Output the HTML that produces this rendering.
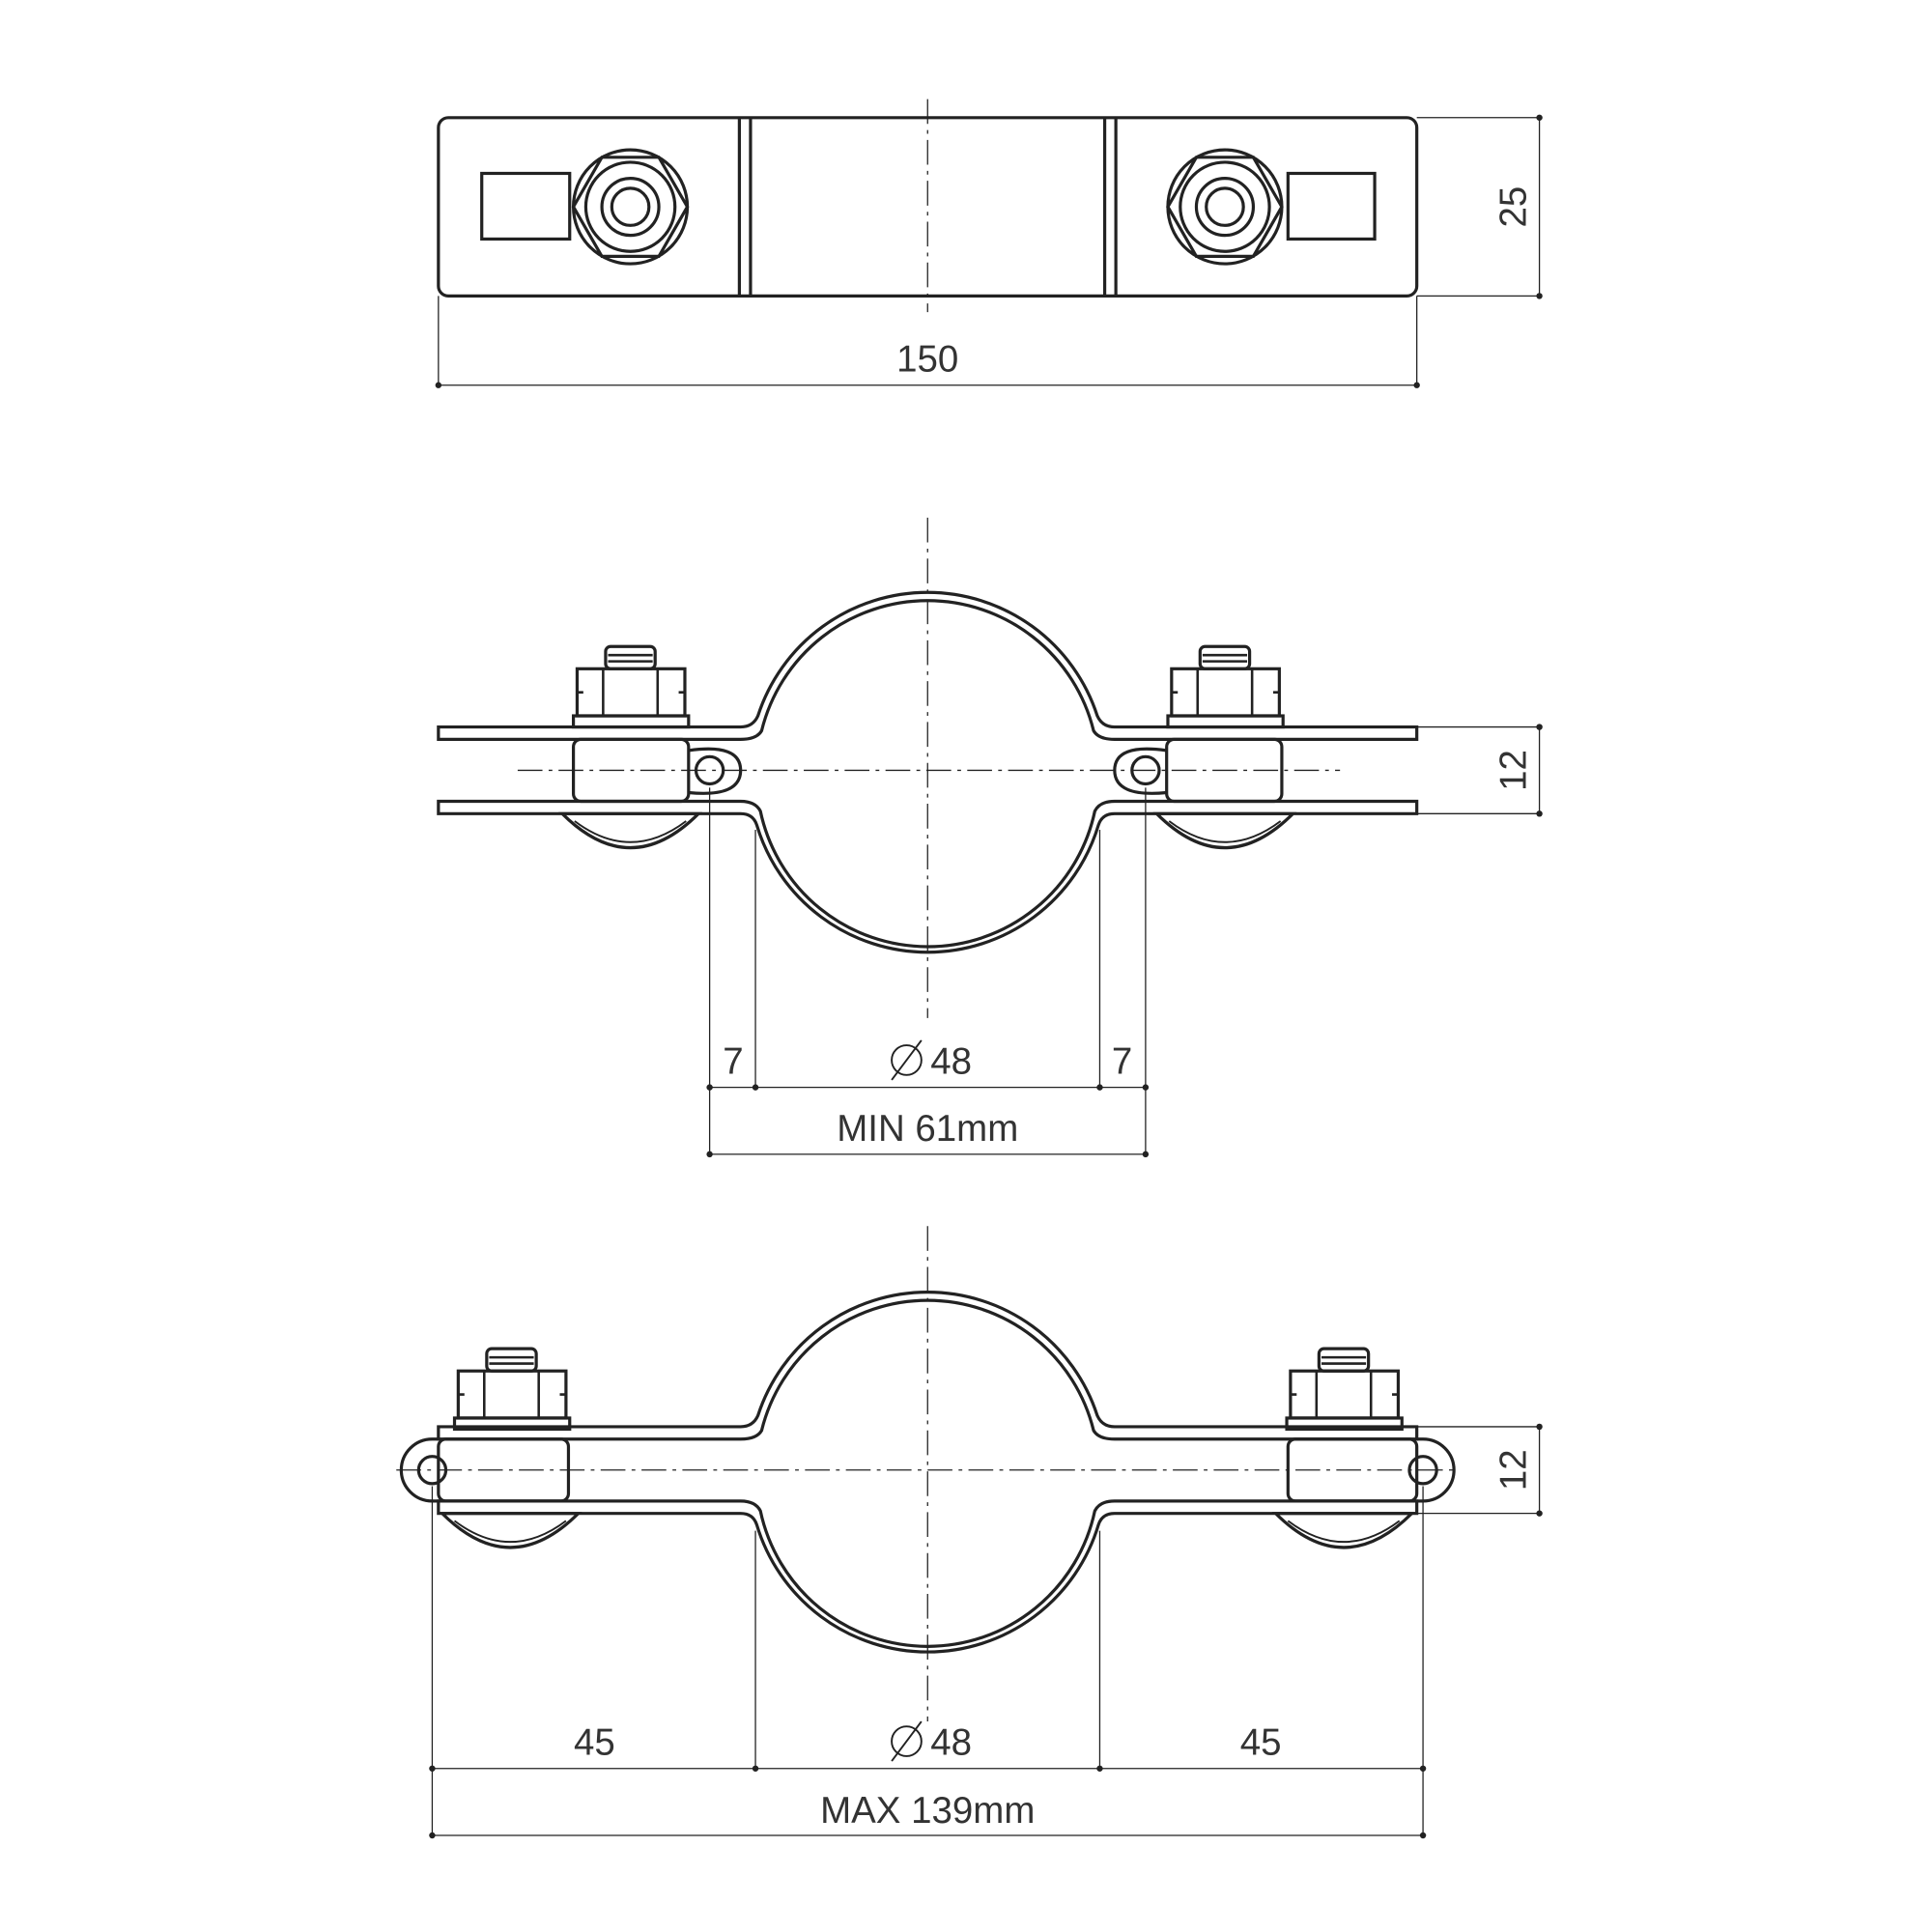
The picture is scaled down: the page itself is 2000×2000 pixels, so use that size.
<!DOCTYPE html>
<html><head><meta charset="utf-8"><style>html,body{margin:0;padding:0;background:#fff}svg{display:block}</style></head>
<body>
<svg width="2000" height="2000" viewBox="0 0 1560 1560" xmlns="http://www.w3.org/2000/svg" font-family="Liberation Sans, sans-serif" fill="none" stroke="#222">
<defs>
<g id="bolt">
  <rect x="-20" y="-57" width="40" height="18" rx="4" stroke-width="2.5"/>
  <path d="M-18 -50 H18 M-18 -45 H18" stroke-width="2"/>
  <rect x="-43" y="-39" width="87" height="38" stroke-width="2.5"/>
  <path d="M-22 -39 V-1 M22 -39 V-1 M-43 -20 H-38 M44 -20 H39" stroke-width="2"/>
  <rect x="-46" y="-1" width="93" height="9" stroke-width="2.5"/>
</g>
<g id="dome">
  <path d="M-55 0 Q0 55 55 0 Z" stroke-width="2.5"/>
  <path d="M-45 6 Q0 40 45 6" stroke-width="1.5"/>
</g>
<g id="ring" stroke-width="2.5" fill="#fff">
  <path d="M354 587 H598 Q608 587 612 578 A144 144 0 0 1 886 578 Q890 587 900 587 H1144 V597 H900 Q887 597 883 590 A138 138 0 0 0 615 590 Q611 597 598 597 H354 Z"/>
  <path d="M354 647 H598 Q610 647 614 655 A138 138 0 0 0 884 655 Q888 647 900 647 H1144 V657 H900 Q890 657 887 666 A144 144 0 0 1 611 666 Q608 657 598 657 H354 Z"/>
</g>
</defs>

<!-- TOP VIEW -->
<rect x="354" y="95" width="790" height="144" rx="8" stroke-width="2.5"/>
<path d="M597 95 V239 M606 95 V239 M892 95 V239 M901 95 V239" stroke-width="2.5"/>
<path d="M749 80 V252" stroke-width="1" stroke-dasharray="20,5,3,5"/>
<rect x="389" y="140" width="71" height="53" stroke-width="2.5"/>
<rect x="1040" y="140" width="70" height="53" stroke-width="2.5"/>
<g stroke-width="2.5">
<circle cx="509" cy="167" r="46" fill="#fff"/><circle cx="509" cy="167" r="36"/><circle cx="509" cy="167" r="23"/><circle cx="509" cy="167" r="15"/>
<polygon points="463,167 486,127 532,127 555,167 532,207 486,207"/>
<circle cx="989" cy="167" r="46" fill="#fff"/><circle cx="989" cy="167" r="36"/><circle cx="989" cy="167" r="23"/><circle cx="989" cy="167" r="15"/>
<polygon points="943,167 966,127 1012,127 1035,167 1012,207 966,207"/>
</g>
<g stroke-width="1">
<path d="M1144 95 H1243 M1144 239 H1243 M1243 95 V239 M354 239 V311 M1144 239 V311 M354 311 H1144"/>
</g>
<g fill="#222" stroke="none"><circle cx="1243" cy="95" r="2.5"/><circle cx="1243" cy="239" r="2.5"/><circle cx="354" cy="311" r="2.5"/><circle cx="1144" cy="311" r="2.5"/></g>
<text x="749" y="300" font-size="30" fill="#333" stroke="none" text-anchor="middle">150</text>
<text transform="translate(1232,167) rotate(-90)" font-size="30" fill="#333" stroke="none" text-anchor="middle">25</text>

<!-- MIDDLE VIEW -->
<use href="#ring"/>
<g stroke-width="2.5">
<rect x="463" y="597" width="93" height="50" rx="6"/>
<rect x="942" y="597" width="93" height="50" rx="6"/>
<path d="M556 606 Q598 600 598 622 Q598 644 556 640"/>
<path d="M942 606 Q900 600 900 622 Q900 644 942 640"/>
<circle cx="573" cy="622" r="11"/><circle cx="925" cy="622" r="11"/>
</g>
<use href="#bolt" x="509" y="579"/><use href="#bolt" x="989" y="579"/>
<use href="#dome" x="509" y="657"/><use href="#dome" x="989" y="657"/>
<path d="M418 622 H1082 M749 418 V822" stroke-width="1" stroke-dasharray="20,5,3,5"/>
<g stroke-width="1">
<path d="M1144 587 H1243 M1144 657 H1243 M1243 587 V657"/>
<path d="M573 636 V932 M610 670 V878 M888 670 V878 M925 636 V932 M573 878 H925 M573 932 H925"/>
</g>
<g fill="#222" stroke="none"><circle cx="1243" cy="587" r="2.5"/><circle cx="1243" cy="657" r="2.5"/>
<circle cx="573" cy="878" r="2.5"/><circle cx="610" cy="878" r="2.5"/><circle cx="888" cy="878" r="2.5"/><circle cx="925" cy="878" r="2.5"/><circle cx="573" cy="932" r="2.5"/><circle cx="925" cy="932" r="2.5"/></g>
<g font-size="30" fill="#333" stroke="none" text-anchor="middle">
<text x="592" y="867">7</text><text x="906" y="867">7</text><text x="768" y="867">48</text>
<text x="749" y="921">MIN 61mm</text>
<text transform="translate(1232,622) rotate(-90)">12</text>
</g>
<g stroke-width="1.5"><circle cx="732" cy="856" r="12"/><path d="M720 872 L744 840"/></g>

<!-- BOTTOM VIEW -->
<use href="#ring" y="565"/>
<g stroke-width="2.5">
<rect x="354" y="1162" width="105" height="50" rx="6"/>
<rect x="1040" y="1162" width="104" height="50" rx="6"/>
<path d="M354 1162 H349 A25 25 0 0 0 349 1212 H354"/>
<path d="M1144 1162 H1149 A25 25 0 0 1 1149 1212 H1144"/>
<circle cx="349" cy="1187" r="11"/><circle cx="1149" cy="1187" r="11"/>
</g>
<use href="#bolt" x="413" y="1146"/><use href="#bolt" x="1085" y="1146"/>
<use href="#dome" x="412" y="1222"/><use href="#dome" x="1085" y="1222"/>
<path d="M320 1187 H1178 M749 990 V1390" stroke-width="1" stroke-dasharray="20,5,3,5"/>
<g stroke-width="1">
<path d="M1144 1152 H1243 M1144 1222 H1243 M1243 1152 V1222"/>
<path d="M349 1200 V1482 M610 1236 V1428 M888 1236 V1428 M1149 1200 V1482 M349 1428 H1149 M349 1482 H1149"/>
</g>
<g fill="#222" stroke="none"><circle cx="1243" cy="1152" r="2.5"/><circle cx="1243" cy="1222" r="2.5"/>
<circle cx="349" cy="1428" r="2.5"/><circle cx="610" cy="1428" r="2.5"/><circle cx="888" cy="1428" r="2.5"/><circle cx="1149" cy="1428" r="2.5"/><circle cx="349" cy="1482" r="2.5"/><circle cx="1149" cy="1482" r="2.5"/></g>
<g font-size="30" fill="#333" stroke="none" text-anchor="middle">
<text x="480" y="1417">45</text><text x="1018" y="1417">45</text><text x="768" y="1417">48</text>
<text x="749" y="1472">MAX 139mm</text>
<text transform="translate(1232,1187) rotate(-90)">12</text>
</g>
<g stroke-width="1.5"><circle cx="732" cy="1406" r="12"/><path d="M720 1422 L744 1390"/></g>
</svg>
</body></html>
